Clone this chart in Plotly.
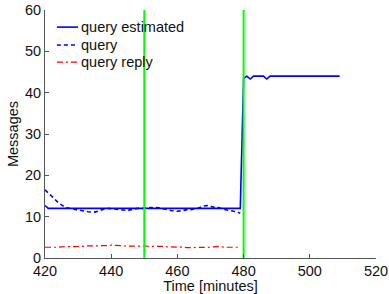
import plotly.graph_objects as go

# Data
minutes_est = list(range(420, 510))
query_estimated = [12.7] + [12.0] * 59 + [43.5, 44.0, 43.3, 44.0, 44.0, 44.0, 44.0, 43.3] + [44.0] * 22

minutes_q = list(range(420, 480))
query = [16.5, 15.8, 15.0, 14.2, 13.4, 12.8, 12.3, 12.1, 11.9, 11.7,
         11.6, 11.5, 11.3, 11.2, 11.1, 11.1, 11.3, 11.7, 11.9, 12.0,
         11.9, 11.8, 11.8, 11.7, 11.6, 11.5, 11.7, 11.9, 12.0, 12.0,
         12.0, 12.1, 12.2, 12.1, 12.2, 12.0, 11.8, 11.6, 11.5, 11.4,
         11.3, 11.4, 11.6, 11.7, 11.7, 11.8, 12.0, 12.3, 12.6, 12.7,
         12.5, 12.3, 12.3, 12.0, 11.8, 11.6, 11.4, 11.3, 11.2, 10.8]
query_reply = [2.6, 2.6, 2.5, 2.6, 2.6, 2.7, 2.7, 2.7, 2.8, 2.8,
               2.8, 2.8, 2.9, 2.9, 2.9, 2.9, 2.9, 3.0, 3.0, 3.0,
               3.1, 3.1, 3.0, 3.0, 2.9, 2.9, 2.9, 2.9, 2.9, 2.9,
               2.9, 2.9, 2.9, 2.8, 2.8, 2.8, 2.8, 2.7, 2.7, 2.7,
               2.6, 2.6, 2.6, 2.5, 2.5, 2.5, 2.5, 2.5, 2.6, 2.6,
               2.6, 2.7, 2.8, 2.7, 2.6, 2.6, 2.6, 2.6, 2.6, 2.6]

vlines = [450, 480]
x_ticks = [420, 440, 460, 480, 500, 520]
y_ticks = [0, 10, 20, 30, 40, 50, 60]

series_names = ["query estimated", "query", "query reply"]
series_colors = ["#0000ff", "#0000ff", "#ff0000"]
series_dashes = ["solid", "4px,3px", "6px,3px,2px,3px"]
series_widths = [1.6, 1.6, 1.2]

FONT = "Liberation Sans, Arial, Helvetica, sans-serif"

fig = go.Figure()
xs = [minutes_est, minutes_q, minutes_q]
ys = [query_estimated, query, query_reply]
for x, y, n, c, d, w in zip(xs, ys, series_names, series_colors, series_dashes, series_widths):
    fig.add_trace(go.Scatter(x=x, y=y, mode="lines", name=n, showlegend=False,
                             line=dict(color=c, width=w, dash=d)))

for v in vlines:
    fig.add_trace(go.Scatter(x=[v, v], y=[0, 60], mode="lines",
                             line=dict(color="#00ff00", width=2),
                             showlegend=False, hoverinfo="skip"))

# Custom legend (MATLAB style) in paper coordinates
leg_rows = [0.931, 0.859, 0.790]
for yy, n, c, d, w in zip(leg_rows, series_names, series_colors, series_dashes, series_widths):
    fig.add_shape(type="line", xref="paper", yref="paper",
                  x0=0.036, x1=0.0997, y0=yy, y1=yy,
                  line=dict(color=c, width=w, dash=d))
    fig.add_annotation(xref="paper", yref="paper", x=0.104, y=yy, text=n,
                       showarrow=False, xanchor="left", yanchor="middle",
                       font=dict(family=FONT, size=14.5, color="#111111"))

axis_common = dict(showline=True, linecolor="#555555", linewidth=1,
                   ticks="inside", ticklen=4, tickcolor="#555555",
                   showgrid=False, zeroline=False, mirror=False, automargin=False,
                   tickfont=dict(family=FONT, size=14.5, color="#111111"))

fig.update_layout(
    width=389, height=294,
    margin=dict(l=45, r=13, t=10, b=36),
    paper_bgcolor="white", plot_bgcolor="white",
    font=dict(family=FONT, color="#111111"),
    xaxis=dict(range=[420, 520], tickvals=x_ticks,
               title=dict(text="Time [minutes]", font=dict(family=FONT, size=14.5), standoff=0),
               **axis_common),
    yaxis=dict(range=[0, 60], tickvals=y_ticks,
               title=dict(text="Messages", font=dict(family=FONT, size=14.5), standoff=2),
               **axis_common),
    showlegend=False,
)

fig.write_html("out.html", config={"displayModeBar": False},
               post_script="document.body.style.margin='0px';document.body.style.overflow='hidden';")
